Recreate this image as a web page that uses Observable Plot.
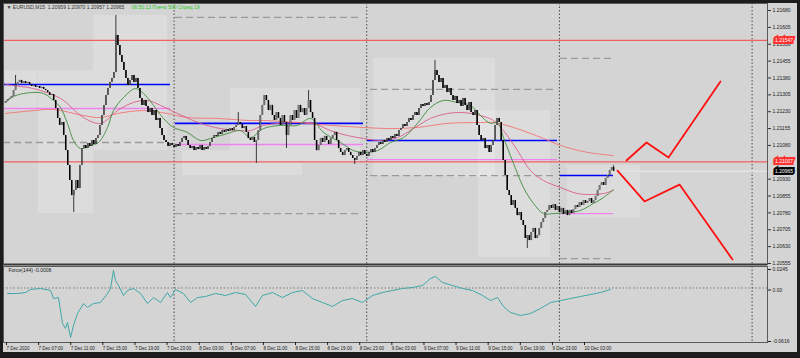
<!DOCTYPE html>
<html><head><meta charset="utf-8">
<script src="https://cdn.jsdelivr.net/npm/d3@7"></script>
<script src="https://cdn.jsdelivr.net/npm/@observablehq/plot@0.6"></script>
<style>
html,body{margin:0;padding:0;background:#1c1c1c;}
#wrap{position:relative;width:800px;height:358px;background:#1c1c1c;overflow:hidden;}
#panel{position:absolute;left:3px;top:3px;width:794px;height:349px;background:#d4d4d4;}
#main,#sub{position:absolute;left:0;}
#main{top:0}
#sub{top:264px}
svg{overflow:visible}
</style></head><body>
<div id="wrap"><div id="panel"></div><div id="main"></div><div id="sub"></div></div>
<script>
// ---------- DATA ----------
// EURUSD M15 closes, in points above 1.20000, bars every 15 min from 7 Dec 03:00
const firstOpen = 1268;
const closes = [
1275,1284,1289,1298,1324,1347,1360,1369,1355,1364,
1355,1360,1351,1342,1347,1338,1342,1333,1338,1329,
1324,1315,1302,1306,1280,1244,1200,1169,1182,1124,
1057,991,924,857,880,924,888,991,1066,1080,
1066,1089,1075,1102,1084,1111,1124,1169,1213,1258,
1302,1333,1360,1378,1404,1569,1524,1480,1449,1413,
1378,1347,1369,1391,1360,1378,1333,1289,1258,1280,
1253,1226,1244,1213,1235,1191,1200,1155,1124,1102,
1093,1075,1089,1080,1071,1084,1075,1093,1111,1120,
1102,1080,1066,1075,1057,1071,1062,1080,1057,1071,
1062,1075,1093,1111,1124,1120,1138,1129,1146,1138,
1151,1142,1155,1146,1160,1169,1182,1173,1155,1164,
1138,1111,1102,1115,1093,1102,1146,1213,1258,1302,
1280,1235,1258,1213,1191,1226,1200,1169,1213,1182,
1124,1169,1213,1191,1235,1200,1258,1226,1244,1213,
1244,1280,1226,1200,1102,1057,1080,1111,1093,1120,
1102,1084,1111,1124,1138,1102,1066,1049,1035,1057,
1066,1049,1035,1022,1013,1031,1049,1035,1057,1040,
1031,1049,1062,1049,1066,1080,1093,1084,1102,1093,
1111,1102,1120,1111,1129,1120,1146,1155,1173,1164,
1182,1200,1191,1213,1226,1213,1244,1262,1253,1266,
1258,1271,1302,1369,1413,1391,1360,1378,1333,1347,
1315,1333,1302,1280,1298,1266,1280,1253,1289,1258,
1235,1271,1226,1213,1235,1169,1124,1102,1111,1066,
1080,1049,1080,1102,1169,1200,1182,1102,1013,946,
880,857,813,835,800,768,782,746,724,666,
679,657,693,711,666,679,711,737,755,782,
791,813,800,817,791,808,782,800,773,791,
768,791,777,795,813,804,826,813,835,822,
831,844,822,835,853,880,902,915,902,933,
946,968,982,965];
const wickBars = [5, 34, 55, 116, 125, 140, 151, 174, 214, 260, 303];
const wickHigh = [1391, null, 1658, 1226, null, null, 1324, null, 1458, null, 991];
const wickLow  = [null, 782, null, null, 1000, 1066, null, 995, null, 622, null];

// moving averages (hours from 7 Dec 03:00, points)
const maFastHours = [0,1.0,3.11,4.73,5.98,6.85,7.72,8.47,9.34,10.59,11.58,12.71,13.45,14.7,16.19,17.19,18.44,19.68,20.93,22.67,24.29,25.91,27.65,29.27,30.52,32.14,34.26,36.37,37.99,39.61,41.73,43.35,44.59,46.34,47.96,49.58,51.32,52.94,54.56,56.3,57.92,59.17,60.41,61.29,62.03,63.28,64.52,65.77,67.02,68.26,70.01,71.62,73.24,74.49,75.73];
const maFast = [1271,1298,1315,1311,1280,1249,1178,1102,1066,1080,1093,1160,1235,1293,1333,1311,1258,1200,1160,1138,1102,1115,1133,1146,1115,1155,1169,1169,1200,1138,1093,1057,1049,1057,1093,1115,1178,1249,1280,1271,1258,1213,1178,1182,1115,1000,893,822,777,777,782,791,822,848,884];
const maMidHours = [0,1.87,3.49,6.85,9.72,11.83,13.95,15.94,17.69,19.31,21.43,24.29,26.78,29.27,30.52,32.14,36.37,38.37,40.48,42.6,44.59,46.71,48.83,50.82,52.94,55.06,57.05,59.17,60.79,62.03,63.78,65.4,67.02,69.13,71.25,73.24,74.49,75.73];
const maMid = [1351,1342,1333,1289,1204,1178,1235,1271,1280,1258,1222,1178,1155,1146,1146,1169,1182,1178,1146,1124,1111,1102,1115,1155,1200,1222,1226,1213,1191,1146,1057,968,924,893,866,862,866,880];
const maSlowHours = [0,3.49,5.98,9.72,11.83,13.95,17.19,20.18,22.67,26.41,30.27,32.14,36.37,40.48,44.59,47.96,51.32,55.06,59.17,60.79,63.28,67.02,69.13,72.5,75.73];
const maSlow = [1222,1235,1240,1213,1204,1222,1235,1222,1204,1200,1191,1191,1182,1169,1160,1155,1160,1178,1182,1182,1160,1111,1080,1049,1035];

// daily levels: start hour, end hour, price points
const levelStart = [-0.25, 21.18, 45.09, 69.13];
const levelEnd   = [20.55, 44.59, 68.76, 75.73];
const blueLevels   = [1351, 1178, 1102, 946];
const violetLevels = [1244, 1084, 1017, 777];
const dashStart = [-0.25, 21.18, 21.18, 45.47, 45.47, 69.13, 69.13];
const dashEnd   = [19.93, 44.47, 44.47, 68.76, 68.76, 75.73, 75.73];
const dashLevels = [1093, 1649, 777, 1329, 946, 1467, 577];

// session boxes: hours and price points
const boxH1 = [0, 4.11, 10.96, 22.05, 28.03, 37.0, 45.84, 55.06, 58.92, 70.0];
const boxH2 = [3.99, 10.96, 20.18, 28.03, 37.0, 44.22, 55.06, 61.04, 67.89, 79.1];
const boxTop = [1413, 1413, 1658, 1057, 1333, 1333, 1467, 1467, 1235, 991];
const boxBot = [1235, 777, 1057, 946, 946, 1000, 946, 937, 582, 755];

// red horizontal lines and forecast zigzags
const redLines = [1.21547, 1.21007];
const fcUpHours = [77.35, 79.85, 82.59, 89.06];
const fcUp = [1013, 1093, 1026, 1364];
const fcDnHours = [76.23, 79.6, 83.96, 90.56];
const fcDn = [968, 831, 906, 573];

const daySeparators = [21, 45, 69, 93];
const yTicks = [1.20555,1.20630,1.20705,1.20780,1.20855,1.20930,1.21080,1.21155,1.21230,1.21305,1.21380,1.21455,1.21530,1.21605,1.21680];
const tickHours = [0,4,8,12,16,20,24,28,32,36,40,44,48,52,56,60,64,68,72];
const tickLabels = ["7 Dec 2020","7 Dec 07:00","7 Dec 11:00","7 Dec 15:00","7 Dec 19:00","7 Dec 23:00","8 Dec 03:00","8 Dec 07:00","8 Dec 11:00","8 Dec 15:00","8 Dec 19:00","8 Dec 23:00","9 Dec 03:00","9 Dec 07:00","9 Dec 11:00","9 Dec 15:00","9 Dec 19:00","9 Dec 23:00","10 Dec 03:00"];

// Force index (144)
const forceHours = [0.25,1.49,2.49,3.11,4.36,5.61,5.98,6.6,7.1,7.47,7.72,8.1,8.47,8.97,9.72,10.21,10.96,11.83,12.71,13.08,13.45,13.7,14.08,14.7,15.2,15.94,16.82,17.69,18.44,19.31,20.18,20.55,21.18,22.17,23.04,23.92,24.91,26.16,27.4,28.65,29.9,31.14,32.01,33.26,34.5,35.75,36.99,38.24,39.49,40.73,41.98,43.22,44.47,45.72,46.96,48.21,49.45,50.7,51.94,52.94,53.56,54.43,55.68,56.93,58.17,59.42,60.41,61.29,62.03,62.91,64.15,65.4,66.64,67.89,69.13,70.38,71.62,72.87,74.12,75.36];
const forceValues = [-0.0066,-0.0066,-0.0054,-0.0018,-0.0006,-0.0030,-0.0126,-0.0114,-0.0425,-0.0484,-0.0413,-0.0592,-0.0449,-0.0305,-0.0186,-0.0233,-0.0186,-0.0174,-0.0066,-0.0006,0.0209,0.0090,0.0030,-0.0090,-0.0030,-0.0006,-0.0066,-0.0186,-0.0114,-0.0174,-0.0054,-0.0114,-0.0018,-0.0066,-0.0174,-0.0114,-0.0102,-0.0066,-0.0090,-0.0054,-0.0078,-0.0221,-0.0090,-0.0054,-0.0114,-0.0054,-0.0030,-0.0126,-0.0174,-0.0221,-0.0150,-0.0126,-0.0174,-0.0090,-0.0054,-0.0030,-0.0006,0.0006,0.0030,0.0113,0.0137,0.0066,0.0030,-0.0006,-0.0030,-0.0090,-0.0150,-0.0114,-0.0221,-0.0293,-0.0329,-0.0305,-0.0245,-0.0174,-0.0150,-0.0126,-0.0102,-0.0078,-0.0054,-0.0018];
const forceTicks = [0.0245, 0, -0.0616];
const forceTickLabels = ["0.0245", "0.00", "-0.0616"];

const headerText = "▼ EURUSD,M15  1.20959 1.20970 1.20957 1.20965";
const infoText = "06:50:13 Плечо 500 Спред 19";
const forceLabel = "Force(144) -0.0008";

// ---------- BUILD ----------
const P = v => 1.2 + v / 1e5;
const candles = closes.map((c, i) => {
  const o = i ? closes[i - 1] : firstOpen;
  return {h: i * 0.25, o: P(o), c: P(c), hi: P(Math.max(o, c)), lo: P(Math.min(o, c)), up: c >= o};
});
wickBars.forEach((b, k) => {
  if (wickHigh[k] != null) candles[b].hi = P(wickHigh[k]);
  if (wickLow[k] != null) candles[b].lo = P(wickLow[k]);
});
const series = (hs, vs) => hs.map((h, i) => ({h, p: P(vs[i])}));
const levelSeg = (vals) => vals.map((v, i) => ({x1: levelStart[i], x2: levelEnd[i], y: P(v)}));
const dashSeg = dashLevels.map((v, i) => ({x1: dashStart[i], x2: dashEnd[i], y: P(v)}));
const boxes = boxH1.map((h, i) => ({x1: h, x2: boxH2[i], y1: P(boxBot[i]), y2: P(boxTop[i])}));
const lastPrice = P(closes[closes.length - 1]);
const xDomain = [-0.25, 94.92];
const font = "'Liberation Sans', Arial, sans-serif";

const main = Plot.plot({
  width: 800, height: 266,
  marginLeft: 3, marginRight: 33, marginTop: 3, marginBottom: 2,
  style: {background: "transparent", color: "#1a1a1a", fontFamily: font},
  x: {domain: xDomain, axis: null},
  y: {domain: [1.205506, 1.217111], axis: null},
  marks: [
    Plot.rect(boxes, {x1: "x1", x2: "x2", y1: "y1", y2: "y2", fill: "#ffffff", fillOpacity: 0.2}),
    Plot.ruleX(daySeparators, {stroke: "#4a4a4a", strokeDasharray: "1.5,2"}),
    Plot.ruleY(redLines, {stroke: "#f06060", strokeWidth: 1.3}),
    Plot.ruleY([lastPrice], {x1: 76, x2: xDomain[1], stroke: "#e4e4e4", strokeWidth: 1.5}),
    Plot.ruleY(dashSeg, {x1: "x1", x2: "x2", y: "y", stroke: "#9a9a9a", strokeWidth: 1.3, strokeDasharray: "7,4"}),
    Plot.ruleY(levelSeg(violetLevels), {x1: "x1", x2: "x2", y: "y", stroke: "#ee82ee", strokeWidth: 1.4}),
    Plot.ruleY(levelSeg(blueLevels), {x1: "x1", x2: "x2", y: "y", stroke: "#0000ff", strokeWidth: 1.6}),
    Plot.line(series(maSlowHours, maSlow), {x: "h", y: "p", stroke: "#f07474", strokeWidth: 0.9, curve: "catmull-rom"}),
    Plot.line(series(maMidHours, maMid), {x: "h", y: "p", stroke: "#dc5c8c", strokeWidth: 0.9, curve: "catmull-rom"}),
    Plot.line(series(maFastHours, maFast), {x: "h", y: "p", stroke: "#3c8c3c", strokeWidth: 0.9, curve: "catmull-rom"}),
    Plot.ruleX(candles, {x: "h", y1: "lo", y2: "hi", stroke: "#111", strokeWidth: 0.8}),
    Plot.ruleX(candles, {x: "h", y1: "o", y2: "c", stroke: "#000", strokeWidth: 1.5}),
    Plot.ruleX(candles.filter(d => d.up), {x: "h", y1: "o", y2: "c", stroke: "#f4f4f4", strokeWidth: 0.5}),
    Plot.line(series(fcUpHours, fcUp), {x: "h", y: "p", stroke: "#ff1010", strokeWidth: 1.8}),
    Plot.line(series(fcDnHours, fcDn), {x: "h", y: "p", stroke: "#ff1010", strokeWidth: 1.8}),
    Plot.frame({stroke: "#5a5a5a"}),
    Plot.ruleY([1.205506], {stroke: "#3a3a3a", strokeWidth: 2}),
    Plot.axisY({anchor: "right", label: null, ticks: yTicks, tickFormat: d => d.toFixed(5), tickSize: 3, tickPadding: 2, fontSize: 5, stroke: "#333"}),
    Plot.text(redLines, {x: xDomain[1], y: d => d, dx: 16.5, text: d => d.toFixed(5), fontSize: 5, fill: "#fff", stroke: "#ff3030", strokeWidth: 4, strokeLinejoin: "miter", paintOrder: "stroke"}),
    Plot.text([lastPrice], {x: xDomain[1], y: d => d, dx: 16.5, text: d => d.toFixed(5), fontSize: 5, fill: "#fff", stroke: "#000", strokeWidth: 4, strokeLinejoin: "miter", paintOrder: "stroke"}),
    Plot.text([headerText], {frameAnchor: "top-left", dx: 3, dy: 1.5, fontSize: 5, fill: "#333"}),
    Plot.text([infoText], {frameAnchor: "top-left", dx: 128, dy: 1.5, fontSize: 5, fill: "#22c822"})
  ]
});
document.getElementById("main").appendChild(main);

const labMap = new Map(tickHours.map((h, i) => [h, tickLabels[i]]));
const fMap = new Map(forceTicks.map((v, i) => [v, forceTickLabels[i]]));
const sub = Plot.plot({
  width: 800, height: 90,
  marginLeft: 3, marginRight: 33, marginTop: 2, marginBottom: 12,
  style: {background: "transparent", color: "#1a1a1a", fontFamily: font},
  x: {domain: xDomain, axis: null},
  y: {domain: [-0.0652, 0.0257], axis: null},
  marks: [
    Plot.ruleY([0], {stroke: "#7a7a7a", strokeDasharray: "1.5,2"}),
    Plot.ruleX(daySeparators, {stroke: "#4a4a4a", strokeDasharray: "1.5,2"}),
    Plot.line(forceHours.map((h, i) => ({h, v: forceValues[i]})), {x: "h", y: "v", stroke: "#2fa3a3", strokeWidth: 0.9}),
    Plot.frame({stroke: "#5a5a5a"}),
    Plot.axisY({anchor: "right", label: null, ticks: forceTicks, tickFormat: d => fMap.get(d), tickSize: 3, tickPadding: 2, fontSize: 5, dy: 2}),
    Plot.axisX({anchor: "bottom", label: null, ticks: tickHours, tickFormat: d => labMap.get(d), tickSize: 3, tickPadding: 1, fontSize: 4.5, textAnchor: "start", dx: 1}),
    Plot.text([forceLabel], {frameAnchor: "top-left", dx: 5, dy: 2, fontSize: 5, fill: "#222"})
  ]
});
document.getElementById("sub").appendChild(sub);
</script>
</body></html>
